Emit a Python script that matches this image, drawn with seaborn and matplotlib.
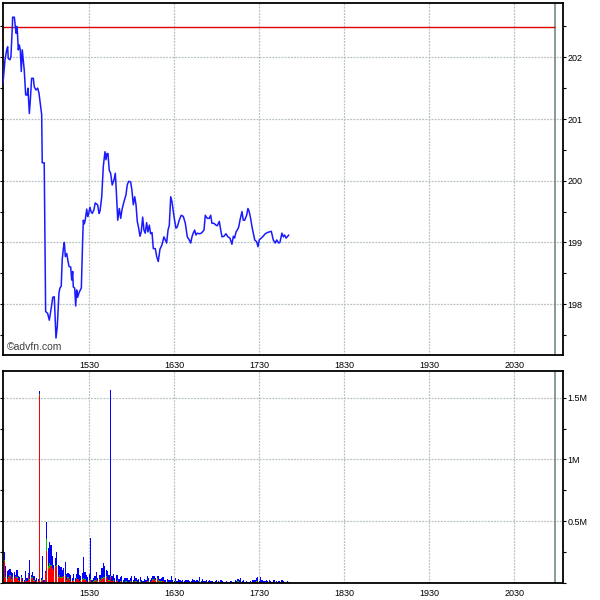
import numpy as np
import pandas as pd
import matplotlib
matplotlib.use('Agg')
import matplotlib.pyplot as plt
from matplotlib.ticker import MultipleLocator, FixedLocator
import seaborn as sns

sns.set_style('white')
plt.rcParams['font.family'] = ['Liberation Sans', 'DejaVu Sans']

# minutes after 14:30
price_t = [-0.9, -0.2, 0.5, 1.7, 2.4, 2.8, 4.0, 4.7, 5.7, 5.9,
           7.1, 7.8, 8.3, 8.8, 9.2, 9.9, 10.6, 11.3, 12.0, 12.7,
           13.4, 14.1, 15.1, 16.2, 16.7, 17.7, 18.4, 19.3, 20.5, 21.2,
           22.4, 23.6, 24.5, 25.7, 26.4, 26.8, 28.2, 29.2, 30.6, 31.8,
           33.5, 34.2, 35.3, 36.0, 36.5, 37.4, 38.6, 39.3, 40.2, 40.9,
           41.7, 42.4, 43.1, 44.1, 44.8, 45.7, 46.9, 47.6, 48.3, 48.7,
           49.7, 50.4, 51.1, 51.8, 52.7, 53.7, 54.4, 55.3, 55.8, 56.5,
           57.2, 58.2, 58.9, 59.6, 60.5, 61.2, 62.1, 63.3, 64.2, 65.2,
           65.9, 66.9, 67.6,
           68.8, 69.9, 71.1, 71.8, 72.5, 73.2, 74.1, 75.1, 76.2, 77.4,
           78.4, 79.3, 80.1, 81.2, 82.2, 83.1, 84.5, 85.9, 86.8, 87.8,
           89.2, 90.1, 91.1, 92.1, 93.0, 93.9, 94.9, 95.8, 96.7, 97.7,
           98.6, 99.5, 100.5, 101.4, 102.4, 103.3, 104.3, 105.2, 106.6, 107.6,
           108.7, 109.9, 111.3, 112.7, 113.7, 114.6, 115.6, 116.5, 117.5, 118.4,
           119.8, 121.2, 122.1, 123.5, 124.9, 126.4, 127.8, 129.2, 130.6, 131.6,
           132.5, 133.4, 134.4, 135.3, 136.2, 137.7, 139.1, 141.0, 141.9, 143.3,
           144.7, 145.7, 146.6, 148.0, 149.4, 150.4, 151.8, 152.8, 153.7, 155.1,
           156.5, 157.9, 159.3, 160.7, 161.7, 162.6, 163.6, 164.5, 165.5, 166.4,
           167.8, 168.7, 169.7, 171.1, 172.0, 172.9, 173.9, 174.9, 175.8, 176.8,
           178.2, 179.1, 180.0, 181.4, 182.8, 184.2, 185.7, 187.1, 188.5, 189.9,
           191.3, 192.3, 193.7, 194.6, 196.0, 197.0, 197.9, 198.9, 199.8, 200.8]
price = [201.58, 201.77, 201.96, 202.12, 202.17, 201.98, 201.96, 202.01, 202.50, 202.65,
         202.65, 202.50, 202.39, 202.50, 202.44, 202.12, 202.20, 202.12, 201.77, 202.12,
         201.96, 201.79, 201.39, 201.39, 201.50, 201.09, 201.31, 201.66, 201.66, 201.52,
         201.47, 201.50, 201.42, 201.20, 201.07, 200.29, 200.29, 197.88, 197.85, 197.74,
         197.99, 198.11, 198.12, 197.74, 197.45, 197.63, 198.18, 198.26, 198.29, 198.72,
         198.90, 199.00, 198.77, 198.82, 198.72, 198.61, 198.60, 198.39, 198.53, 198.28,
         198.26, 197.97, 198.23, 198.11, 198.18, 198.23, 198.26, 199.01, 199.36, 199.30,
         199.37, 199.54, 199.42, 199.47, 199.57, 199.50, 199.47, 199.53, 199.64, 199.62,
         199.61, 199.47, 199.51,
         199.74, 200.23, 200.47, 200.34, 200.44, 200.44, 200.17, 200.12, 199.93, 200.01,
         200.12, 199.74, 199.36, 199.55, 199.39, 199.53, 199.66, 199.77, 199.93, 199.99,
         199.98, 199.85, 199.61, 199.74, 199.61, 199.34, 199.23, 199.10, 199.17, 199.41,
         199.20, 199.15, 199.32, 199.17, 199.28, 199.14, 199.16, 198.90, 198.90, 198.77,
         198.69, 198.89, 198.96, 199.09, 199.04, 198.99, 199.20, 199.28, 199.74, 199.66,
         199.42, 199.23, 199.25, 199.36, 199.44, 199.42, 199.31, 199.09, 199.04, 198.99,
         199.09, 199.15, 199.20, 199.12, 199.15, 199.14, 199.15, 199.20, 199.44, 199.39,
         199.39, 199.44, 199.31, 199.31, 199.28, 199.27, 199.34, 199.20, 199.09, 199.10,
         199.14, 199.09, 199.07, 198.97, 199.10, 199.07, 199.17, 199.20, 199.25, 199.36,
         199.50, 199.36, 199.36, 199.44, 199.55, 199.50, 199.39, 199.25, 199.15, 199.04,
         199.01, 198.93, 199.04, 199.07, 199.10, 199.14, 199.16, 199.17, 199.18, 199.04,
         198.99, 199.04, 198.99, 199.00, 199.15, 199.09, 199.12, 199.07, 199.09, 199.12]
prev_close = 202.49

# volume per minute bar (thousands), one bar per minute from 14:30
vol_total = [255, 134, 94, 102, 113, 86, 81, 86, 67, 108, 54, 48, 67, 40, 27, 94, 40, 81, 183, 67,
             86, 54, 27, 40, 35, 1555,
             40, 215, 27, 99, 492, 282, 336, 309, 215, 148, 202, 250, 142, 134, 126, 108, 121, 167,
             73, 81, 73, 62, 40, 73, 40, 75, 121, 62, 54, 81, 207, 86, 62, 46, 75, 363, 27, 40,
             54, 86, 40, 67, 62, 121, 161, 134, 108, 94, 62, 1565,
             59, 73, 40, 62, 67, 35, 48, 54, 27, 40, 40, 40, 27, 40, 54, 27, 54,
             40, 27, 32, 49, 22, 13, 32, 22, 54, 40, 22, 40, 54, 59, 40, 59, 54, 32, 40, 49,
             22, 27, 32, 22, 27, 59, 22, 13, 40, 13, 32, 27, 13, 27, 13, 27, 22, 27, 13, 13,
             32, 22, 13, 22, 13, 49, 13, 32, 13, 13, 22, 13, 22, 13, 13, 8,
             13, 22, 13, 8, 22, 13, 8, 8, 13, 8, 8, 13, 8, 8, 22, 13, 32, 22, 40, 13,
             22, 8, 13, 8, 8, 13, 22, 27, 22, 40, 49, 13, 49, 22, 13, 13, 22, 13, 27, 13,
             8, 22, 27, 13, 8, 13, 8, 22, 13, 8, 8, 13, 8]
vol_red = [180, 40, 27, 40, 54, 27, 40, 30, 60, 40, 20, 15, 40, 15, 10, 20, 15, 67, 27, 40,
           40, 20, 10, 20, 15, 1520,
           20, 25, 10, 80, 260, 116, 120, 134, 120, 107, 126, 134, 40, 54, 40, 40, 54, 54,
           20, 40, 25, 15, 15, 20, 15, 30, 30, 15, 20, 25, 30, 25, 15, 10, 20, 25, 10, 10,
           20, 30, 10, 25, 20, 30, 40, 40, 50, 30, 20, 50,
           15, 20, 10, 15, 20, 10, 10, 15, 8, 10, 10, 10, 8, 10, 15, 8, 15,
           10, 5, 8, 10, 5, 0, 8, 5, 15, 10, 5, 15, 25, 30, 20, 30, 20, 10, 10, 15,
           5, 5, 5, 0, 5, 10, 5, 0, 10, 0, 5, 5, 0, 5, 0, 5, 5, 5, 0, 0,
           8, 5, 0, 5, 0, 10, 0, 5, 0, 0, 5, 0, 5, 0, 0, 0,
           0, 5, 0, 0, 5, 0, 0, 0, 5, 0, 0, 0, 0, 0, 5, 0, 10, 5, 8, 0,
           5, 0, 0, 0, 0, 0, 5, 5, 5, 10, 20, 0, 10, 5, 0, 0, 5, 0, 5, 0,
           0, 5, 5, 0, 0, 0, 0, 5, 0, 0, 0, 0, 0]
vol_green = [10, 8, 5, 8, 8, 5, 8, 5, 0, 8, 5, 0, 5, 0, 0, 5, 0, 8, 5, 5,
             8, 5, 0, 0, 0, 12,
             5, 5, 0, 5, 100, 20, 40, 10, 5, 0, 15, 15, 5, 10, 5, 5, 5, 10,
             5, 8, 5, 5, 0, 5, 0, 8, 5, 5, 5, 8, 10, 5, 5, 0, 5, 10, 0, 5,
             8, 5, 5, 5, 5, 8, 10, 5, 5, 5, 5, 10,
             5, 5, 0, 5, 5, 0, 5, 5, 0, 0, 5, 0, 0, 5, 5, 0, 5,
             5, 0, 3, 5, 0, 0, 3, 0, 5, 5, 0, 5, 8, 5, 5, 8, 5, 3, 5, 5,
             0, 3, 0, 0, 3, 0, 0, 0, 3, 0, 0, 3, 0, 0, 0, 3, 0, 0, 0, 0,
             3, 0, 0, 0, 0, 3, 0, 0, 0, 0, 0, 0, 3, 0, 0, 0,
             0, 0, 3, 0, 0, 0, 0, 0, 0, 0, 0, 0, 0, 0, 0, 0, 3, 0, 0, 0,
             0, 3, 0, 0, 0, 0, 0, 0, 0, 3, 0, 0, 0, 0, 0, 0, 0, 3, 0, 0,
             0, 0, 0, 0, 0, 0, 0, 0, 0, 0, 0, 0, 0]

tick_pos = [60, 120, 180, 240, 300, 360]
tick_lab = ['1530', '1630', '1730', '1830', '1930', '2030']
session_end = 388.5
x_range = (-0.9, 394.2)

df_p = pd.DataFrame({'t': price_t, 'price': price})
df_v = pd.DataFrame({'t': np.arange(len(vol_total)), 'total': vol_total,
                     'red': vol_red, 'green': vol_green})
df_v[['total', 'red', 'green']] *= 1000
df_v['blue'] = df_v['total'] - df_v['red'] - df_v['green']

fig = plt.figure(figsize=(6, 6), dpi=100)
ax1 = fig.add_axes([0.005, 0.4083, 0.9328, 0.5867])
ax2 = fig.add_axes([0.005, 0.0283, 0.9328, 0.3538])

grid_kw = dict(color='#b8c0c0', linestyle=(0, (1.5, 1)), linewidth=0.9)

for ax in (ax1, ax2):
    ax.set_xlim(*x_range)
    ax.xaxis.set_major_locator(FixedLocator(tick_pos))
    ax.set_xticklabels(tick_lab)
    ax.grid(True, which='major', **grid_kw)
    ax.set_axisbelow(True)
    ax.axvline(session_end, color='#6a8080', lw=1.1, zorder=1)
    for s in ax.spines.values():
        s.set_color('black')
        s.set_linewidth(1.3)
    ax.tick_params(axis='x', length=0, labelsize=6.5, pad=4, colors='black')
    ax.tick_params(axis='y', which='both', left=True, right=True, labelleft=False,
                   labelright=True, direction='out', length=2.5, width=0.8,
                   labelsize=6.5, pad=1, colors='black')

# price panel
ax1.set_ylim(197.175, 202.88)
ax1.yaxis.set_major_locator(MultipleLocator(1))
ax1.yaxis.set_minor_locator(MultipleLocator(0.5))
ax1.hlines(prev_close, x_range[0], session_end, color='#e00000', lw=1.0, zorder=2)
sns.lineplot(data=df_p, x='t', y='price', ax=ax1, estimator=None, sort=False,
             color='#1a1aff', lw=1.1, zorder=3)
ax1.set_xlabel('')
ax1.set_ylabel('')
ax1.text(0.007, 0.008, '\u00a9advfn.com', transform=ax1.transAxes, fontsize=7.5,
         color='#404040', ha='left', va='bottom')

# volume panel
ax2.set_ylim(0, 1718000)
ax2.yaxis.set_major_locator(FixedLocator([500000, 1000000, 1500000]))
ax2.yaxis.set_minor_locator(MultipleLocator(250000))
ax2.set_yticklabels(['0.5M', '1M', '1.5M'])
w = 0.85
ax2.bar(df_v['t'], df_v['red'], width=w, color='#ff0000', lw=0, zorder=2)
ax2.bar(df_v['t'], df_v['green'], width=w, bottom=df_v['red'], color='#00c800', lw=0, zorder=2)
ax2.bar(df_v['t'], df_v['blue'], width=w, bottom=df_v['red'] + df_v['green'],
        color='#0000ff', lw=0, zorder=2)

fig.savefig('out.png', dpi=100)
